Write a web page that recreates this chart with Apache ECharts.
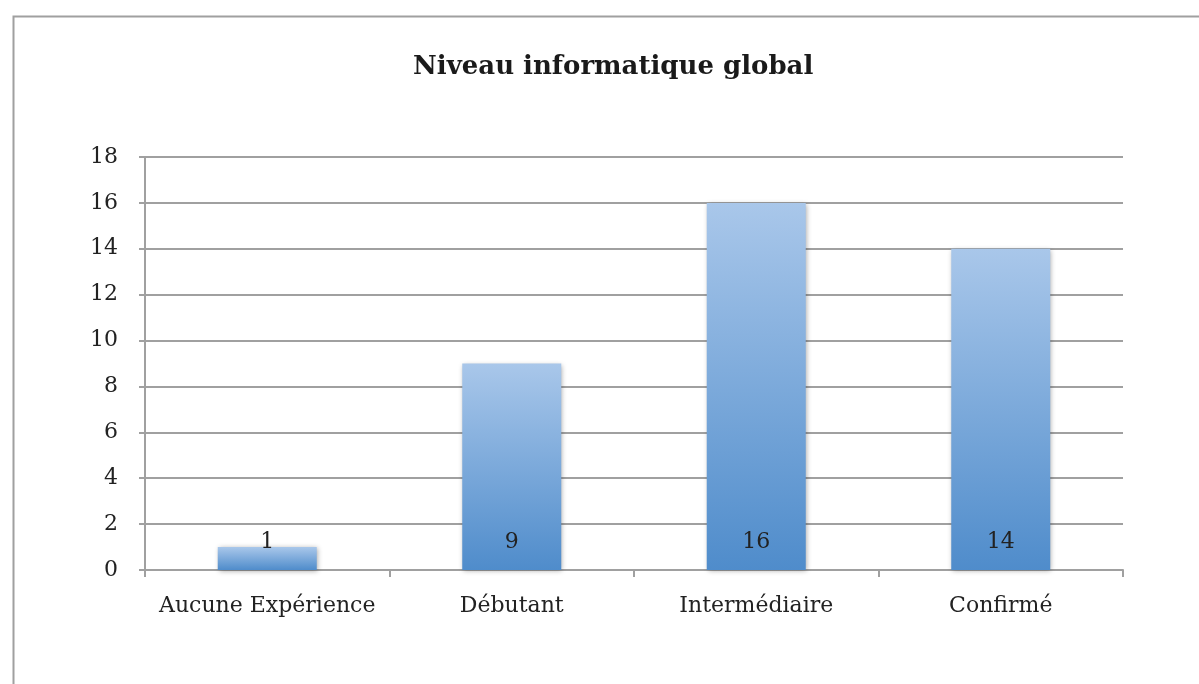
<!DOCTYPE html>
<html>
<head>
<meta charset="utf-8">
<script src="https://cdn.jsdelivr.net/npm/echarts@6/dist/echarts.min.js"></script>
<style>
  html, body { margin: 0; padding: 0; background: #fff; }
  #chart { width: 1199px; height: 684px; }
</style>
</head>
<body>
<div id="chart"></div>
<script>
// ─── Données ───────────────────────────────────────────────────────────────
const titre      = 'Niveau informatique global'
const categories = ['Aucune Expérience', 'Débutant', 'Intermédiaire', 'Confirmé']
const valeurs    = [1, 9, 16, 14]
const yTicks     = { min: 0, max: 18, interval: 2 }

const police = '"DejaVu Serif", serif'
const gris   = '#a0a0a0'

const chart = echarts.init(document.getElementById('chart'))
chart.setOption({
  backgroundColor: '#fff',
  animation: false,
  graphic: [{
    type: 'rect', left: 11, top: 14, silent: true,
    shape: { width: 1300, height: 800 },
    style: { fill: 'none', stroke: gris, lineWidth: 2 },
  }],
  title: {
    text: titre, left: 408, top: 49,
    textStyle: { fontFamily: police, fontWeight: 'bold', fontSize: 26, color: '#1a1a1a' },
  },
  grid: { left: 145, right: 76, top: 157, bottom: 114 },
  xAxis: {
    type: 'category', data: categories,
    axisLine: { lineStyle: { color: gris, width: 2 } },
    axisTick: { show: true, interval: 0, length: 7, alignWithLabel: false, lineStyle: { color: gris, width: 2 } },
    axisLabel: { interval: 0, fontFamily: police, fontSize: 22, color: '#222', margin: 25 },
  },
  yAxis: {
    type: 'value', ...yTicks,
    axisLine: { show: true, lineStyle: { color: gris, width: 2 } },
    axisTick: { show: true, length: 6, lineStyle: { color: gris, width: 2 } },
    axisLabel: { fontFamily: police, fontSize: 22, color: '#222', margin: 27 },
    splitLine: { lineStyle: { color: gris, width: 2 } },
  },
  series: [{
    type: 'bar', data: valeurs, barWidth: 99,
    itemStyle: {
      color: new echarts.graphic.LinearGradient(0, 0, 0, 1, [
        { offset: 0, color: '#a9c7ea' },
        { offset: 1, color: '#4f8ccb' },
      ]),
      shadowColor: 'rgba(0,0,0,0.35)', shadowBlur: 5, shadowOffsetX: 1, shadowOffsetY: 1,
    },
    label: {
      show: true, position: 'insideBottom', distance: 17,
      fontFamily: police, fontSize: 22, color: '#222',
    },
  }],
})
</script>
</body>
</html>
